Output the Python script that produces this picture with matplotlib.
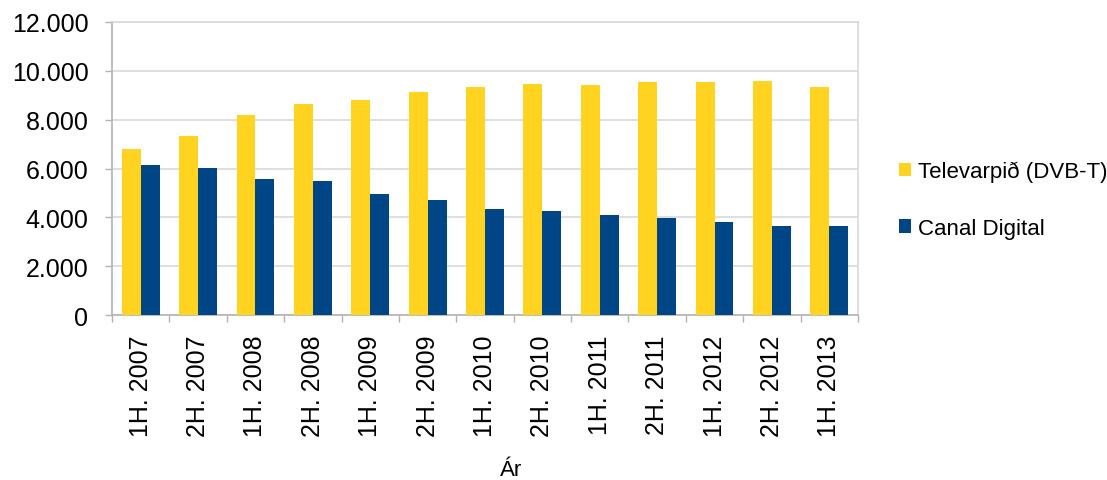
import matplotlib
matplotlib.use("Agg")
import matplotlib.pyplot as plt
import numpy as np
from matplotlib.ticker import FuncFormatter, MultipleLocator

categories = ["1H. 2007", "2H. 2007", "1H. 2008", "2H. 2008", "1H. 2009", "2H. 2009",
              "1H. 2010", "2H. 2010", "1H. 2011", "2H. 2011", "1H. 2012", "2H. 2012", "1H. 2013"]
televarpid = [6780, 7350, 8190, 8640, 8810, 9130, 9330, 9450, 9430, 9550, 9560, 9600, 9320]
canal_digital = [6140, 6040, 5590, 5500, 4970, 4720, 4330, 4240, 4080, 3960, 3810, 3660, 3660]
series_names = ["Televarpið (DVB-T)", "Canal Digital"]
x_label = "Ár"

plt.rcParams['font.family'] = ['Liberation Sans', 'DejaVu Sans']

fig = plt.figure(figsize=(11.07, 4.81), dpi=100)
ax = fig.add_axes([112/1107, 1-316/481, (858-112)/1107, (316-23)/481])

x = np.arange(len(categories))
w = 0.33
yellow = "#ffd320"
blue = "#004586"
b1 = ax.bar(x - w/2, televarpid, w, color=yellow, label=series_names[0], zorder=3)
b2 = ax.bar(x + w/2, canal_digital, w, color=blue, label=series_names[1], zorder=3)

ax.set_xlim(-0.5, len(categories) - 0.5)
ax.set_ylim(0, 12000)
ax.yaxis.set_major_locator(MultipleLocator(2000))
ax.yaxis.set_major_formatter(FuncFormatter(lambda v, p: f"{int(v):,}".replace(",", ".")))
ax.grid(axis='y', color="#d9d9d9", linewidth=1.2, zorder=0)

ax.set_xticks(x)
ax.set_xticklabels(categories, rotation=90)
ax.set_xticks(np.arange(-0.5, len(categories), 1), minor=True)
ax.tick_params(axis='x', which='major', length=0, labelsize=18, pad=14)
ax.tick_params(axis='x', which='minor', length=5, color="#b3b3b3", width=1)
ax.tick_params(axis='y', length=5, color="#b3b3b3", width=1, labelsize=18, pad=12)

for s in ['left', 'bottom']:
    ax.spines[s].set_color("#b3b3b3")
    ax.spines[s].set_linewidth(1.2)
for s in ['top', 'right']:
    ax.spines[s].set_color("#d9d9d9")
    ax.spines[s].set_linewidth(1.2)

fig.text(511/1107, 1-471/481, x_label, ha='center', va='center', fontsize=16)

leg = fig.legend(handles=[b1, b2], labels=series_names, loc='center left',
                 bbox_to_anchor=(879/1107, 1-201/481), frameon=False, fontsize=16,
                 handlelength=0.55, handleheight=0.55, handletextpad=0.3, labelspacing=1.6)

fig.savefig("out.png", dpi=100)
